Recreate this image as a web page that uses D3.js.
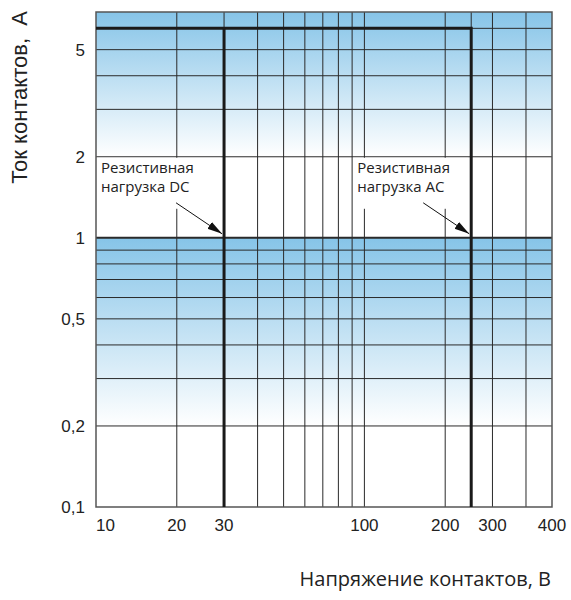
<!DOCTYPE html>
<html>
<head>
<meta charset="utf-8">
<script src="https://cdn.jsdelivr.net/npm/d3@7"></script>
<style>
  body { margin: 0; background: #fff; }
  svg { display: block; }
</style>
</head>
<body>
<div id="chart"></div>
<script>
// напряжение, В
const xDomain = [10, 500];
const xGrid = [20, 30, 40, 50, 60, 70, 80, 90, 100, 200, 250, 300, 400];
const xLabels = [10, 20, 30, 100, 200, 300, 400];
// ток, А
const yDomain = [0.1, 6.9];
const yGrid = [0.2, 0.3, 0.4, 0.5, 0.6, 0.7, 0.8, 0.9, 1, 2, 3, 4, 5, 6];
const yLabels = [0.1, 0.2, 0.5, 1, 2, 5];
// голубые полосы [верх, низ]
const bands = [[6.9, 2], [1, 0.2]];
// граница рабочей области
const maxCurrent = 6;
const dcVoltage = 30;
const acVoltage = 250;
// подписи
const noteLines = [["Резистивная", "нагрузка DC"], ["Резистивная", "нагрузка AC"]];
const noteVoltage = [dcVoltage, acVoltage];

const width = 571, height = 600;
const svg = d3.select("#chart").append("svg")
    .attr("width", width)
    .attr("height", height);

const x = d3.scaleLog().domain(xDomain).range([96, 552]);
const y = d3.scaleLog().domain(yDomain).range([507, 12]);
const fmt = d3.formatLocale({decimal: ",", thousands: " ", grouping: [3], currency: ["", ""]}).format("~g");

// градиент сверху вниз: голубой -> белый
const grad = svg.append("defs").append("linearGradient")
    .attr("id", "band")
    .attr("x1", 0).attr("y1", 0).attr("x2", 0).attr("y2", 1);
grad.append("stop").attr("offset", 0).attr("stop-color", "#86c4e8");
grad.append("stop").attr("offset", 1).attr("stop-color", "#ffffff");

svg.select("defs").append("marker")
    .attr("id", "arrow")
    .attr("markerUnits", "userSpaceOnUse")
    .attr("viewBox", "0 -5 15 10")
    .attr("refX", 15).attr("refY", 0)
    .attr("markerWidth", 15).attr("markerHeight", 10)
    .attr("orient", "auto")
    .append("path")
    .attr("d", "M0,-4L15,0L0,4Z")
    .attr("fill", "#111");

svg.append("g").selectAll("rect")
    .data(bands)
    .enter()
    .append("rect")
    .attr("x", x(xDomain[0]))
    .attr("width", x(xDomain[1]) - x(xDomain[0]))
    .attr("y", (d) => y(d[0]))
    .attr("height", (d) => y(d[1]) - y(d[0]))
    .attr("fill", "url(#band)");

// сетка
const grid = svg.append("g").attr("stroke", "#2a2a2a").attr("stroke-width", 1);
grid.selectAll("line.v")
    .data(xGrid)
    .enter()
    .append("line")
    .attr("class", "v")
    .attr("x1", (d) => x(d)).attr("x2", (d) => x(d))
    .attr("y1", y(yDomain[1])).attr("y2", y(yDomain[0]));
grid.selectAll("line.h")
    .data(yGrid)
    .enter()
    .append("line")
    .attr("class", "h")
    .attr("y1", (d) => y(d)).attr("y2", (d) => y(d))
    .attr("x1", x(xDomain[0])).attr("x2", x(xDomain[1]))
    .attr("stroke-width", (d) => d === 1 ? 2 : 1);

// белые подложки под подписями
const tipX = noteVoltage.map((v) => x(v) - 2);
const labelX = [x(xDomain[0]) + 5, x(acVoltage) - 114];
svg.append("g").selectAll("rect")
    .data(noteVoltage)
    .enter()
    .append("rect")
    .attr("x", (d, i) => labelX[i] - 4)
    .attr("width", (d, i) => tipX[i] - labelX[i] + 3)
    .attr("y", y(2) + 1)
    .attr("height", 51)
    .attr("fill", "#fff");

svg.append("rect")
    .attr("x", x(xDomain[0]))
    .attr("y", y(yDomain[1]))
    .attr("width", x(xDomain[1]) - x(xDomain[0]))
    .attr("height", y(yDomain[0]) - y(yDomain[1]))
    .attr("fill", "none")
    .attr("stroke", "#555")
    .attr("stroke-width", 1.5);

// рабочая область
const area = svg.append("g")
    .attr("fill", "none")
    .attr("stroke", "#1a1a1a")
    .attr("stroke-width", 3);
area.append("path")
    .attr("d", d3.line()([
        [x(xDomain[0]), y(maxCurrent)],
        [x(acVoltage), y(maxCurrent)],
        [x(acVoltage), y(yDomain[0])]
    ]));
area.append("line")
    .attr("x1", x(dcVoltage)).attr("x2", x(dcVoltage))
    .attr("y1", y(maxCurrent)).attr("y2", y(yDomain[0]));

// подписи и стрелки
const notes = svg.append("g")
    .attr("font-family", "'Open Sans', sans-serif")
    .attr("font-size", 15)
    .attr("fill", "#222");
noteLines.forEach((lines, i) => {
    notes.append("text")
        .attr("x", labelX[i])
        .attr("y", y(2) + 16)
        .selectAll("tspan")
        .data(lines)
        .enter()
        .append("tspan")
        .attr("x", labelX[i])
        .attr("dy", (d, j) => j ? 19 : 0)
        .text((d) => d);
    notes.append("line")
        .attr("x1", tipX[i] - 46).attr("y1", y(1) - 35)
        .attr("x2", tipX[i]).attr("y2", y(1) - 4)
        .attr("stroke", "#111")
        .attr("stroke-width", 1)
        .attr("marker-end", "url(#arrow)");
});

// оси
const ticks = svg.append("g")
    .attr("font-family", "'Liberation Sans', Arial, sans-serif")
    .attr("font-size", 17)
    .attr("fill", "#222");
ticks.selectAll("text.y")
    .data(yLabels)
    .enter()
    .append("text")
    .attr("class", "y")
    .attr("x", x(xDomain[0]) - 11)
    .attr("y", (d) => y(d))
    .attr("dy", "0.35em")
    .attr("text-anchor", "end")
    .text(fmt);
ticks.selectAll("text.x")
    .data(xLabels)
    .enter()
    .append("text")
    .attr("class", "x")
    .attr("x", (d, i) => i === xLabels.length - 1 ? x(xDomain[1]) : x(d))
    .attr("y", 531)
    .attr("text-anchor", (d, i) => i === 0 ? "start" : "middle")
    .text(fmt);

svg.append("text")
    .attr("transform", "translate(27,11) rotate(-90)")
    .attr("text-anchor", "end")
    .attr("font-family", "'Liberation Sans', Arial, sans-serif")
    .attr("font-size", 22)
    .attr("fill", "#222")
    .text("Ток контактов,\u00a0 А");

svg.append("text")
    .attr("x", 551)
    .attr("y", 586)
    .attr("text-anchor", "end")
    .attr("font-family", "'Open Sans', sans-serif")
    .attr("font-size", 20)
    .attr("fill", "#222")
    .text("Напряжение контактов, В");
</script>
</body>
</html>
